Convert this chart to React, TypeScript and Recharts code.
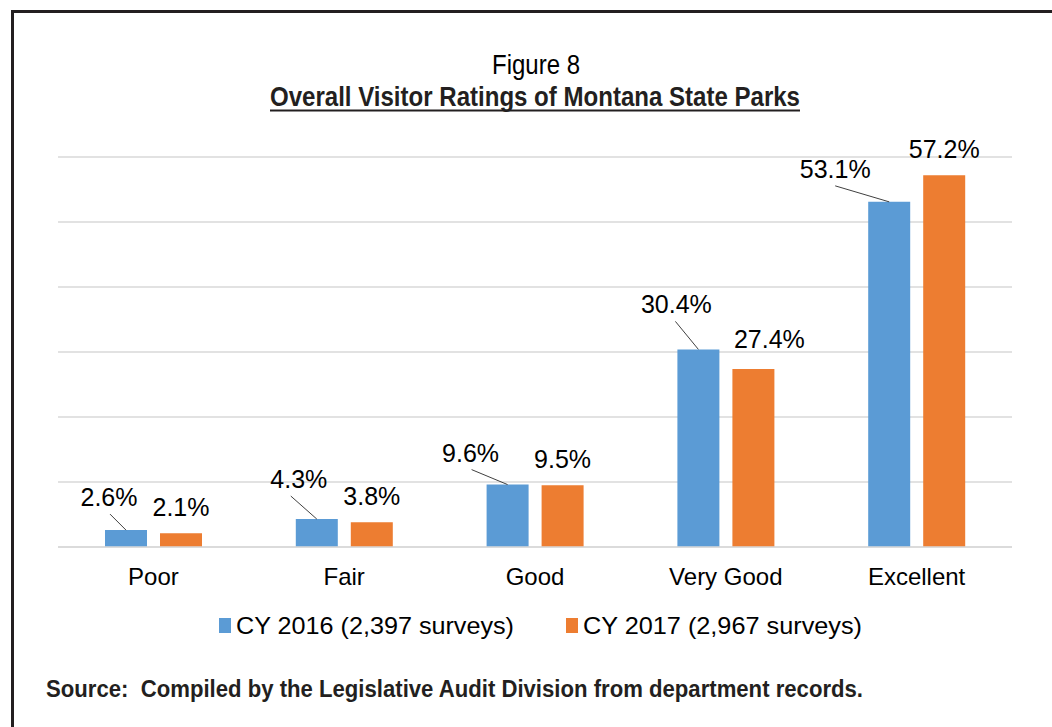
import React from "react";
import { BarChart, Bar, XAxis, YAxis, CartesianGrid, Legend, LabelList } from "recharts";

const categories = ["Poor", "Fair", "Good", "Very Good", "Excellent"];
const cy2016 = [2.6, 4.3, 9.6, 30.4, 53.1];
const cy2017 = [2.1, 3.8, 9.5, 27.4, 57.2];
const seriesNames = ["CY 2016 (2,397 surveys)", "CY 2017 (2,967 surveys)"];
const yTicks = [0, 10, 20, 30, 40, 50, 60];

const BLUE = "#5B9BD5";
const ORANGE = "#ED7D31";
const FONT = "'Liberation Sans', Arial, sans-serif";
const NARROW = "'Liberation Sans Narrow', 'Liberation Sans', Arial, sans-serif";

// 2016 labels are pulled up-left with a leader line: [label dx, label dy, line start dx]
const leaderOffsets = [
  [-17, -33, -16],
  [-18, -40, -26],
  [-37, -32, -36],
  [-22, -45, -23],
  [-54, -33, -54],
];
// 2017 labels sit above the bar, one of them nudged: [dx, dy]
const orangeOffsets = [
  [0, -26],
  [0, -26],
  [0, -26],
  [16, -30],
  [0, -26],
];

const data = categories.map((name, i) => ({ name, y2016: cy2016[i], y2017: cy2017[i] }));

const BlueLabel = (props: any) => {
  const x = Number(props.x);
  const y = Number(props.y);
  const cx = x + Number(props.width) / 2;
  const [dx, dy, lx] = leaderOffsets[props.index] || [0, -26, 0];
  return (
    <g>
      <line x1={cx + lx} y1={y + dy + 17} x2={cx} y2={y} stroke="#404040" strokeWidth={1} />
      <text x={cx + dx} y={y + dy + 9} textAnchor="middle" fontSize={25} fontFamily={FONT} fill="#000">
        {Number(props.value).toFixed(1)}%
      </text>
    </g>
  );
};

const OrangeLabel = (props: any) => {
  const cx = Number(props.x) + Number(props.width) / 2;
  const [dx, dy] = orangeOffsets[props.index] || [0, -26];
  return (
    <text x={cx + dx} y={Number(props.y) + dy + 9} textAnchor="middle" fontSize={25} fontFamily={FONT} fill="#000">
      {Number(props.value).toFixed(1)}%
    </text>
  );
};

// legend drawn in svg so the condensed text can be stretched to width
const renderLegend = () => (
  <svg width={1052} height={40} style={{ display: "block" }}>
    <rect x={219} y={8} width={12} height={15} fill={BLUE} />
    <text x={236} y={24} fontSize={24} fontFamily={NARROW} textLength={278} lengthAdjust="spacingAndGlyphs" fill="#000">
      {seriesNames[0]}
    </text>
    <rect x={566} y={8} width={12} height={15} fill={ORANGE} />
    <text x={583} y={24} fontSize={24} fontFamily={NARROW} textLength={279} lengthAdjust="spacingAndGlyphs" fill="#000">
      {seriesNames[1]}
    </text>
  </svg>
);

export default function App() {
  return (
    <div style={{ position: "fixed", left: 0, top: 0, width: 1052, height: 727, background: "#fff", overflow: "hidden" }}>
      <div style={{ position: "absolute", left: 11, top: 10, width: 1100, height: 800, border: "3px solid #231F20" }} />
      <div style={{ position: "absolute", left: 0, top: 0 }}>
        <BarChart
          width={1052}
          height={727}
          data={data}
          margin={{ top: 157, left: 58, right: 40, bottom: 120 }}
          barSize={42}
          barGap={13}
        >
          <CartesianGrid vertical={false} stroke="#D9D9D9" strokeWidth={1.5} />
          <YAxis hide domain={[0, 60]} ticks={yTicks} />
          <XAxis
            dataKey="name"
            height={60}
            axisLine={{ stroke: "#D9D9D9", strokeWidth: 1.5 }}
            tickLine={false}
            tickMargin={15}
            tick={{ fontSize: 24, fill: "#000", fontFamily: FONT }}
          />
          <Legend
            verticalAlign="middle"
            align="center"
            content={renderLegend}
            wrapperStyle={{ top: 610, left: 0, width: 1052 }}
          />
          <Bar dataKey="y2016" name={seriesNames[0]} fill={BLUE} isAnimationActive={false}>
            <LabelList dataKey="y2016" content={BlueLabel} />
          </Bar>
          <Bar dataKey="y2017" name={seriesNames[1]} fill={ORANGE} isAnimationActive={false}>
            <LabelList dataKey="y2017" content={OrangeLabel} />
          </Bar>
        </BarChart>
      </div>
      <svg width={1052} height={727} style={{ position: "absolute", left: 0, top: 0, pointerEvents: "none" }}>
        <text x={536} y={74} textAnchor="middle" fontSize={28} fontFamily={NARROW} textLength={88} lengthAdjust="spacingAndGlyphs" fill="#000">
          Figure 8
        </text>
        <text x={535} y={106} textAnchor="middle" fontSize={27} fontWeight="bold" fontFamily={NARROW} textLength={530} lengthAdjust="spacingAndGlyphs" fill="#231F20">
          Overall Visitor Ratings of Montana State Parks
        </text>
        <line x1={270} y1={110.5} x2={800} y2={110.5} stroke="#231F20" strokeWidth={2} />
        <text x={46} y={697} fontSize={23} fontWeight="bold" fontFamily={NARROW} textLength={817} lengthAdjust="spacingAndGlyphs" fill="#231F20" style={{ whiteSpace: "pre" }}>
          {"Source:  Compiled by the Legislative Audit Division from department records."}
        </text>
      </svg>
    </div>
  );
}
